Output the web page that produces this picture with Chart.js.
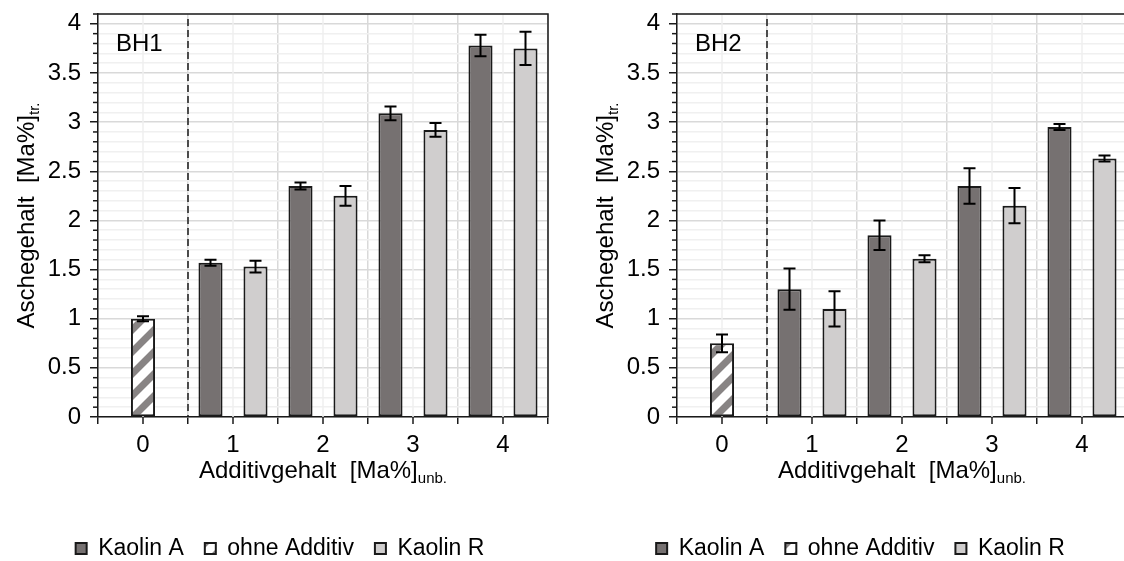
<!DOCTYPE html>
<html>
<head>
<meta charset="utf-8">
<script src="https://cdn.jsdelivr.net/npm/chart.js@4.4.0/dist/chart.umd.min.js"></script>
<style>
  html, body { margin: 0; padding: 0; background: #fff; overflow: hidden; }
  #wrap { position: relative; width: 1124px; height: 561px; overflow: hidden; }
  .box { position: absolute; top: 0; height: 561px; }
  #b1 { left: 0; width: 560px; }
  #b2 { left: 560px; width: 600px; }
</style>
</head>
<body>
<div id="wrap">
  <div class="box" id="b1"><canvas id="c1"></canvas></div>
  <div class="box" id="b2"><canvas id="c2"></canvas></div>
</div>
<script>
// --- data ---
const categories = ['0', '1', '2', '3', '4'];
const seriesNames = ['Kaolin A', 'ohne Additiv', 'Kaolin R'];

const bh1KaolinA    = [null, 1.57, 2.35, 3.09, 3.78];
const bh1KaolinAErr = [null, 0.03, 0.035, 0.07, 0.11];
const bh1Ohne       = [1.0, null, null, null, null];
const bh1OhneErr    = [0.025, null, null, null, null];
const bh1KaolinR    = [null, 1.53, 2.25, 2.92, 3.75];
const bh1KaolinRErr = [null, 0.06, 0.1, 0.07, 0.17];

const bh2KaolinA    = [null, 1.3, 1.85, 2.35, 2.95];
const bh2KaolinAErr = [null, 0.21, 0.15, 0.18, 0.03];
const bh2Ohne       = [0.75, null, null, null, null];
const bh2OhneErr    = [0.09, null, null, null, null];
const bh2KaolinR    = [null, 1.1, 1.61, 2.15, 2.63];
const bh2KaolinRErr = [null, 0.18, 0.035, 0.18, 0.03];

const yMajorTicks = [0, 0.5, 1, 1.5, 2, 2.5, 3, 3.5, 4];
const yMax = 4.1;

const FONT = "'Liberation Sans', Arial, sans-serif";
const DARK = '#767171';
const LIGHT = '#d0cece';
const INK = '#1a1a1a';

Chart.defaults.font.family = FONT;
Chart.defaults.color = '#000';

function makeHatch() {
  const s = 22;
  const c = document.createElement('canvas');
  c.width = s; c.height = s;
  const g = c.getContext('2d');
  g.fillStyle = '#fff';
  g.fillRect(0, 0, s, s);
  g.strokeStyle = '#888484';
  g.lineWidth = 7;
  g.beginPath();
  g.moveTo(-2, s + 2); g.lineTo(s + 2, -2);
  g.moveTo(-s / 2 - 2, s / 2 + 2); g.lineTo(s / 2 + 2, -s / 2 - 2);
  g.moveTo(s / 2 - 2, s * 1.5 + 2); g.lineTo(s * 1.5 + 2, s / 2 - 2);
  g.stroke();
  return g.createPattern(c, 'repeat');
}

function isMajor(v) {
  return Math.round(v * 10) % 5 === 0 && v <= 4.001;
}

// draws text with a trailing subscript, optionally rotated
function drawSubText(ctx, main, sub, cx, cy, rot) {
  ctx.save();
  ctx.translate(cx, cy);
  if (rot) ctx.rotate(rot);
  ctx.font = '24px ' + FONT;
  const w1 = ctx.measureText(main).width;
  ctx.font = '15px ' + FONT;
  const w2 = ctx.measureText(sub).width;
  const x0 = -(w1 + w2) / 2;
  ctx.fillStyle = '#000';
  ctx.textBaseline = 'alphabetic';
  ctx.textAlign = 'left';
  ctx.font = '24px ' + FONT;
  ctx.fillText(main, x0, 8);
  ctx.font = '15px ' + FONT;
  ctx.fillText(sub, x0 + w1, 13);
  ctx.restore();
}

const decor = {
  id: 'decor',
  afterLayout(chart, args, o) {
    // nudge the legend to where the reference has it
    const lg = chart.legend;
    lg.top += o.legendDy; lg.bottom += o.legendDy;
    lg.left += o.legendDx; lg.right += o.legendDx;
  },
  beforeDatasetsDraw(chart, args, o) {
    const { ctx, chartArea: a, scales: { x, y } } = chart;
    ctx.save();
    // light gridlines through category centres
    ctx.strokeStyle = '#efefef';
    ctx.lineWidth = 1.5;
    categories.forEach((c, i) => {
      const px = x.getPixelForValue(i);
      ctx.beginPath(); ctx.moveTo(px, a.top); ctx.lineTo(px, a.bottom); ctx.stroke();
    });
    // dashed separator between reference and additive groups
    const sep = (x.getPixelForValue(0) + x.getPixelForValue(1)) / 2;
    ctx.strokeStyle = INK;
    ctx.setLineDash([7, 4]);
    ctx.beginPath(); ctx.moveTo(sep, y.getPixelForValue(4.05)); ctx.lineTo(sep, a.bottom); ctx.stroke();
    ctx.restore();
  },
  afterDatasetsDraw(chart, args, o) {
    const { ctx, chartArea: a, scales: { x, y } } = chart;
    ctx.save();
    // error bars
    ctx.strokeStyle = '#000';
    ctx.lineWidth = 2;
    chart.data.datasets.forEach((ds, di) => {
      const meta = chart.getDatasetMeta(di);
      ds.data.forEach((v, i) => {
        const e = ds.err[i];
        if (v == null || e == null) return;
        const bx = meta.data[i].x;
        const yt = y.getPixelForValue(v + e);
        const yb = y.getPixelForValue(v - e);
        ctx.beginPath();
        ctx.moveTo(bx, yt); ctx.lineTo(bx, yb);
        ctx.moveTo(bx - 6, yt); ctx.lineTo(bx + 6, yt);
        ctx.moveTo(bx - 6, yb); ctx.lineTo(bx + 6, yb);
        ctx.stroke();
      });
    });
    // plot frame (top and right)
    ctx.strokeStyle = INK;
    ctx.lineWidth = 1.5;
    ctx.beginPath();
    ctx.moveTo(a.left, a.top); ctx.lineTo(a.right, a.top); ctx.lineTo(a.right, a.bottom);
    ctx.stroke();
    // minor y ticks
    for (let k = 1; k <= 41; k++) {
      const v = k / 10;
      if (isMajor(v)) continue;
      const py = y.getPixelForValue(v);
      ctx.beginPath(); ctx.moveTo(a.left - 5, py); ctx.lineTo(a.left, py); ctx.stroke();
    }
    // x ticks at category centres
    categories.forEach((c, i) => {
      const px = x.getPixelForValue(i);
      ctx.beginPath(); ctx.moveTo(px, a.bottom); ctx.lineTo(px, a.bottom + 7); ctx.stroke();
    });
    // panel label
    ctx.fillStyle = '#000';
    ctx.font = '24px ' + FONT;
    ctx.textBaseline = 'middle';
    ctx.textAlign = 'left';
    ctx.fillText(o.label, a.left + 18, 44);
    ctx.restore();
    // axis titles
    drawSubText(ctx, 'Additivgehalt  [Ma%]', 'unb.', (a.left + a.right) / 2, 470, 0);
    drawSubText(ctx, 'Aschegehalt  [Ma%]', 'tr.', o.yTitleX, (a.top + a.bottom) / 2, -Math.PI / 2);
  }
};

function makeChart(id, label, a, aErr, oh, ohErr, r, rErr, yWidth, padRight, yTitleX, legendDx) {
  const hatch = makeHatch();
  return new Chart(document.getElementById(id), {
    type: 'bar',
    data: {
      labels: categories,
      datasets: [
        { label: seriesNames[0], data: a, err: aErr, backgroundColor: DARK },
        { label: seriesNames[1], data: oh, err: ohErr, backgroundColor: hatch },
        { label: seriesNames[2], data: r, err: rErr, backgroundColor: LIGHT }
      ]
    },
    options: {
      responsive: true,
      maintainAspectRatio: false,
      animation: false,
      layout: { padding: { top: 14, right: padRight, left: 0, bottom: 0 } },
      datasets: {
        bar: {
          borderColor: INK,
          borderWidth: 2,
          borderSkipped: false,
          categoryPercentage: 0.75,
          barPercentage: 1.07,
          skipNull: false
        }
      },
      plugins: {
        legend: {
          position: 'bottom',
          labels: {
            boxWidth: 11,
            boxHeight: 11,
            padding: 21,
            color: '#000',
            font: { size: 23, family: FONT }
          }
        },
        tooltip: { enabled: false },
        decor: { label: label, yTitleX: yTitleX, legendDx: legendDx, legendDy: 9 }
      },
      scales: {
        x: {
          offset: true,
          grid: { offset: true, color: '#d9d9d9', lineWidth: 1.5, tickLength: 7, tickColor: INK },
          border: { color: INK, width: 1.5 },
          ticks: { font: { size: 24, family: FONT }, color: '#000', padding: 7 },
          afterFit: (s) => { s.height = 90; s.paddingLeft = 0; s.paddingRight = 0; }
        },
        y: {
          min: 0,
          max: yMax,
          grid: {
            color: (c) => isMajor(c.tick.value) ? '#d9d9d9' : '#f0f0f0',
            lineWidth: 1.5,
            tickLength: 8,
            tickColor: (c) => isMajor(c.tick.value) ? INK : 'rgba(0,0,0,0)'
          },
          border: { color: INK, width: 1.5 },
          ticks: {
            stepSize: 0.1,
            autoSkip: false,
            padding: 9,
            color: '#000',
            font: { size: 24, family: FONT },
            callback: (v) => isMajor(v) && yMajorTicks.includes(Math.round(v * 10) / 10) ? String(Math.round(v * 10) / 10) : ''
          },
          afterFit: (s) => { s.width = yWidth; s.paddingTop = 0; s.paddingBottom = 0; }
        }
      }
    },
    plugins: [decor]
  });
}

makeChart('c1', 'BH1', bh1KaolinA, bh1KaolinAErr, bh1Ohne, bh1OhneErr, bh1KaolinR, bh1KaolinRErr, 98, 12, 26, 6);
makeChart('c2', 'BH2', bh2KaolinA, bh2KaolinAErr, bh2Ohne, bh2OhneErr, bh2KaolinR, bh2KaolinRErr, 117, 33, 45, 17);
</script>
</body>
</html>
